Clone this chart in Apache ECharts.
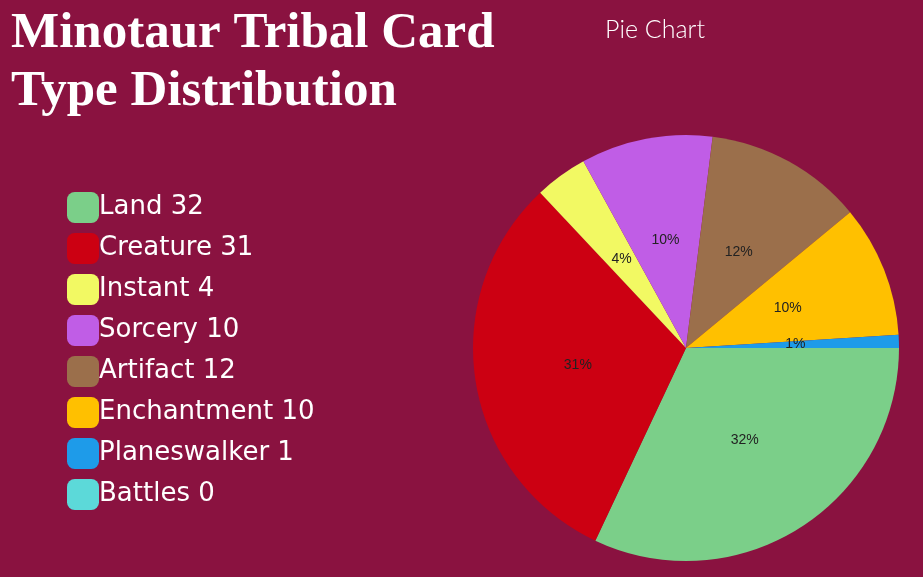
<!DOCTYPE html>
<html><head><meta charset="utf-8">
<script src="https://cdn.jsdelivr.net/npm/echarts@6/dist/echarts.min.js"></script>
<style>html,body{margin:0;padding:0;background:#8a1240}#c{width:923px;height:577px}</style>
</head><body><div id="c"></div>
<script>
const categories=["Land","Creature","Instant","Sorcery","Artifact","Enchantment","Planeswalker","Battles"];
const values=[32,31,4,10,12,10,1,0];
const colors=["#7bcf89","#cc0012","#f2f963","#c05de6","#9b6f4b","#ffc000","#1e9be9","#5cd9d9"];
const chart=echarts.init(document.getElementById('c'));
chart.setOption({
  backgroundColor:'#8a1240',
  color:colors,
  title:[{text:'Minotaur Tribal Card\nType Distribution',left:6,top:0,
    textStyle:{color:'#fff',fontFamily:'Liberation Serif',fontWeight:'bold',fontSize:51,lineHeight:58}},
    {text:'Pie Chart',left:650,top:12,textAlign:'center',textStyle:{color:'#fff',fontFamily:'Lato',fontWeight:300,fontSize:25}}],
  legend:{orient:'vertical',left:62,top:187,itemWidth:32,itemHeight:31,itemGap:10,icon:'roundRect',
    textStyle:{color:'#fff',fontFamily:'DejaVu Sans',fontSize:26,padding:[0,0,0,-5]},
    formatter:n=>n+' '+values[categories.indexOf(n)]},
  series:[{type:'pie',center:[686,348],radius:213,startAngle:0,clockwise:true,
    minShowLabelAngle:0,avoidLabelOverlap:false,stillShowZeroSum:true,
    label:{show:true,position:'inner',formatter:'{d}%',color:'#222',fontSize:14,fontFamily:'Liberation Sans'},
    labelLine:{show:false},
    data:categories.map((c,i)=>({name:c,value:values[i],label:{show:true}}))}]
});
</script></body></html>
